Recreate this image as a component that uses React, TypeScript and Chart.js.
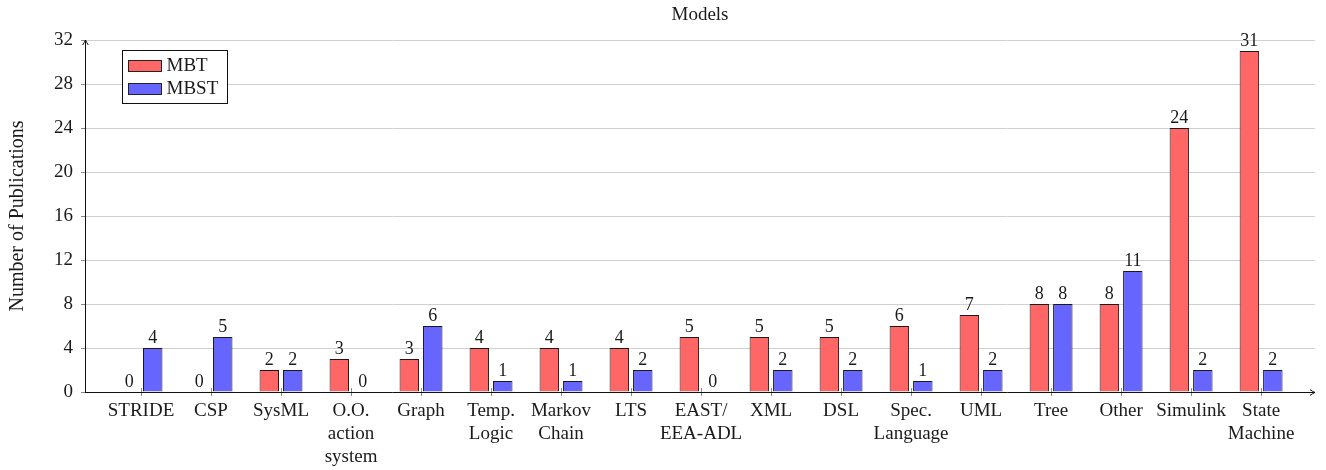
import React, { useEffect, useRef } from 'react';
import { Chart, registerables } from 'chart.js';

Chart.register(...registerables);

const categories: string[][] = [
  ['STRIDE'], ['CSP'], ['SysML'], ['O.O.', 'action', 'system'], ['Graph'],
  ['Temp.', 'Logic'], ['Markov', 'Chain'], ['LTS'], ['EAST/', 'EEA-ADL'],
  ['XML'], ['DSL'], ['Spec.', 'Language'], ['UML'], ['Tree'], ['Other'],
  ['Simulink'], ['State', 'Machine'],
];
const mbtValues = [0, 0, 2, 3, 3, 4, 4, 4, 5, 5, 5, 6, 7, 8, 8, 24, 31];
const mbstValues = [4, 5, 2, 0, 6, 1, 1, 2, 0, 2, 2, 1, 2, 8, 11, 2, 2];
const seriesNames = ['MBT', 'MBST'];
const seriesColors = ['#ff6666', '#6666ff'];
const yTickValues = [0, 4, 8, 12, 16, 20, 24, 28, 32];
const chartTitle = 'Models';
const yTitle = 'Number of Publications';

const FONT = '"Liberation Serif", "Times New Roman", serif';
const TEXT = '#1a1a1a';

const overlayPlugin = {
  id: 'overlay',
  afterDatasetsDraw(chart: any) {
    const ctx = chart.ctx;
    ctx.save();
    ctx.font = `18px ${FONT}`;
    ctx.fillStyle = TEXT;
    ctx.textAlign = 'center';
    ctx.textBaseline = 'alphabetic';
    chart.data.datasets.forEach((ds: any, di: number) => {
      const meta = chart.getDatasetMeta(di);
      meta.data.forEach((el: any, i: number) => {
        const v = ds.data[i].y;
        ctx.fillText(String(v), el.x, el.y - 5);
      });
    });
    ctx.restore();
  },
  afterDraw(chart: any) {
    const ctx = chart.ctx;
    const { left, right, top, bottom } = chart.chartArea;
    const xs = chart.scales.x;
    ctx.save();
    // x tick marks
    ctx.strokeStyle = '#888';
    ctx.lineWidth = 1;
    categories.forEach((_, i) => {
      const px = Math.round(xs.getPixelForValue(i)) + 0.5;
      ctx.beginPath();
      ctx.moveTo(px, bottom - 4);
      ctx.lineTo(px, bottom + 4);
      ctx.stroke();
    });
    // axes
    ctx.strokeStyle = '#111';
    ctx.lineWidth = 1;
    const ax = Math.round(left) + 0.5;
    const ay = Math.round(bottom) + 0.5;
    ctx.beginPath();
    ctx.moveTo(ax, ay);
    ctx.lineTo(ax, top);
    ctx.moveTo(ax - 0.5, ay);
    ctx.lineTo(right, ay);
    ctx.stroke();
    // arrows
    ctx.beginPath();
    ctx.moveTo(ax - 2.8, top + 5);
    ctx.quadraticCurveTo(ax - 0.8, top + 2, ax, top);
    ctx.quadraticCurveTo(ax + 0.8, top + 2, ax + 2.8, top + 5);
    ctx.moveTo(right - 5, ay - 2.8);
    ctx.quadraticCurveTo(right - 2, ay - 0.8, right, ay);
    ctx.quadraticCurveTo(right - 2, ay + 0.8, right - 5, ay + 2.8);
    ctx.stroke();
    // legend
    const lx = Math.round(left + 37) + 0.5;
    const ly = Math.round(top + 10) + 0.5;
    const lw = 105;
    const lh = 53;
    ctx.fillStyle = '#fff';
    ctx.fillRect(lx, ly, lw, lh);
    ctx.strokeStyle = '#111';
    ctx.strokeRect(lx, ly, lw, lh);
    ctx.font = `19px ${FONT}`;
    ctx.textAlign = 'left';
    ctx.textBaseline = 'middle';
    seriesNames.forEach((name, i) => {
      const sy = ly + 10 + i * 23;
      ctx.fillStyle = seriesColors[i];
      ctx.fillRect(lx + 6, sy, 33, 11);
      ctx.strokeStyle = '#222';
      ctx.strokeRect(lx + 6, sy, 33, 11);
      ctx.fillStyle = TEXT;
      ctx.fillText(name, lx + 44, sy + 6);
    });
    ctx.restore();
  },
};

export default function App() {
  const ref = useRef<HTMLCanvasElement | null>(null);
  useEffect(() => {
    if (!ref.current) return;
    const seriesValues = [mbtValues, mbstValues];
    const chart = new Chart(ref.current, {
      type: 'bar',
      data: {
        datasets: seriesNames.map((name, si) => ({
          label: name,
          data: seriesValues[si].map((v, i) => ({ x: i, y: v })),
          backgroundColor: seriesColors[si],
          borderColor: '#1a1a1a',
          borderWidth: 1,
          categoryPercentage: 0.67,
          barPercentage: 0.83,
        })),
      },
      options: {
        animation: false,
        responsive: false,
        devicePixelRatio: 1,
        layout: { padding: { right: 11, left: 0, top: 0, bottom: 0 } },
        plugins: {
          legend: { display: false },
          tooltip: { enabled: false },
          title: {
            display: true,
            text: chartTitle,
            fullSize: false,
            color: TEXT,
            font: { family: FONT, size: 19, weight: 'normal', lineHeight: 1 },
            padding: { top: 6, bottom: 15 },
          },
        },
        scales: {
          x: {
            type: 'linear',
            offset: false,
            min: -0.8,
            max: 16.77,
            grid: { display: false, drawTicks: false },
            border: { display: false },
            afterBuildTicks: (s: any) => {
              s.ticks = categories.map((_, i) => ({ value: i }));
            },
            afterFit: (s: any) => {
              s.height = 78;
            },
            ticks: {
              autoSkip: false,
              maxRotation: 0,
              minRotation: 0,
              padding: 7,
              color: TEXT,
              font: { family: FONT, size: 19, lineHeight: 1.23 },
              callback: (v: any) => categories[v] ?? '',
            },
          },
          y: {
            type: 'linear',
            min: 0,
            max: 32,
            afterBuildTicks: (s: any) => {
              s.ticks = yTickValues.map((v) => ({ value: v }));
            },
            afterFit: (s: any) => {
              s.width = 85;
            },
            grid: { color: '#d0d0d0', tickColor: '#888', tickLength: 4, lineWidth: 1 },
            border: { display: false },
            ticks: {
              padding: 8,
              color: TEXT,
              font: { family: FONT, size: 19 },
            },
            title: {
              display: true,
              text: yTitle,
              color: TEXT,
              font: { family: FONT, size: 20, lineHeight: 1.2 },
              padding: { top: 6, bottom: 0 },
            },
          },
        },
      } as any,
      plugins: [overlayPlugin],
    });
    return () => chart.destroy();
  }, []);
  return (
    <div style={{ position: 'fixed', left: 0, top: 0, width: 1326, height: 470, background: '#fff' }}>
      <canvas ref={ref} width={1326} height={470} style={{ width: 1326, height: 470, display: 'block' }} />
    </div>
  );
}
